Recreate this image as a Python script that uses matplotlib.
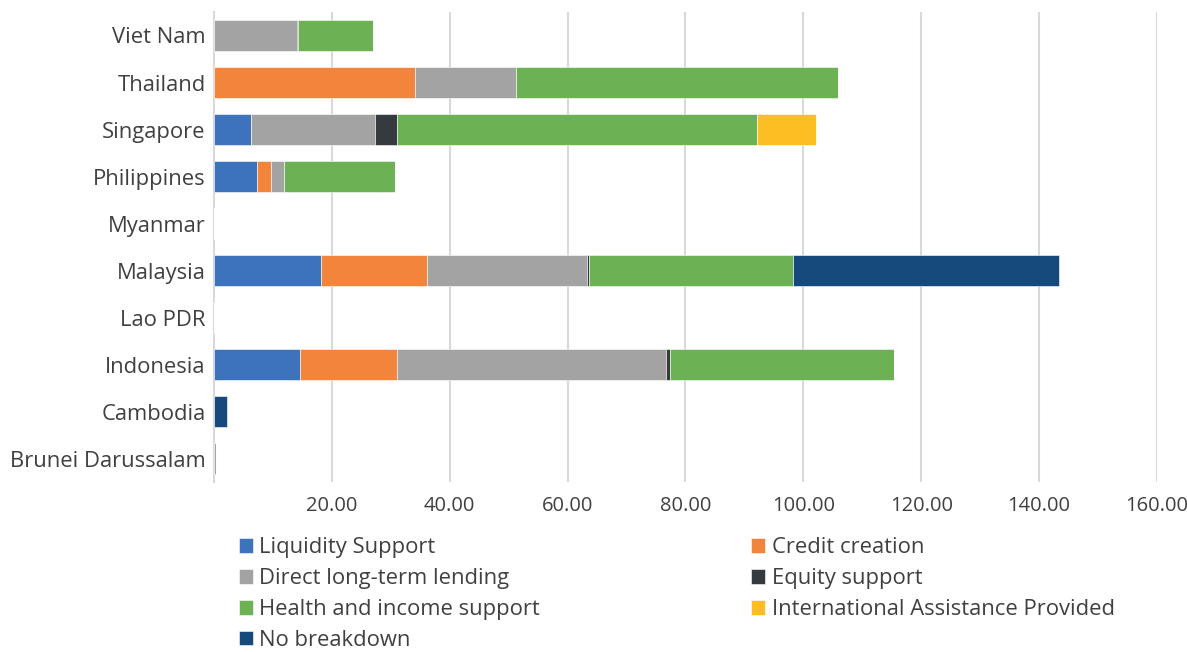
import matplotlib
matplotlib.use("Agg")
import matplotlib.pyplot as plt
import numpy as np

countries = ["Viet Nam", "Thailand", "Singapore", "Philippines", "Myanmar",
             "Malaysia", "Lao PDR", "Indonesia", "Cambodia", "Brunei Darussalam"]
series_names = ["Liquidity Support", "Credit creation", "Direct long-term lending",
                "Equity support", "Health and income support",
                "International Assistance Provided", "No breakdown"]
liquidity = [0, 0, 6.3, 7.3, 0, 18.2, 0, 14.6, 0, 0]
credit = [0, 34.1, 0, 2.4, 0, 18.0, 0, 16.5, 0, 0]
direct = [14.0, 17.2, 21.0, 2.2, 0, 27.1, 0, 45.6, 0, 0.3]
equity = [0.3, 0, 3.8, 0, 0, 0.3, 0, 0.6, 0, 0]
health = [12.6, 54.5, 61.1, 18.8, 0, 34.7, 0, 38.0, 0, 0]
international = [0, 0, 10.0, 0, 0, 0, 0, 0, 0, 0]
no_breakdown = [0, 0, 0, 0, 0, 45.0, 0, 0, 2.2, 0]
x_ticks = [20, 40, 60, 80, 100, 120, 140, 160]
x_ticklabels = ["20.00", "40.00", "60.00", "80.00", "100.00", "120.00", "140.00", "160.00"]

colors = ["#3D72BC", "#F2843B", "#A3A3A3", "#353A3E", "#6CB255", "#FDBE24", "#174A7C"]

plt.rcParams['font.family'] = ['Open Sans', 'DejaVu Sans']

fig = plt.figure(figsize=(11.87, 6.52), dpi=100)
ax = fig.add_axes([0.1803, 0.2607, 0.9747 - 0.1803, 0.9816 - 0.2607])

data = [liquidity, credit, direct, equity, health, international, no_breakdown]
y = np.arange(len(countries))
left = np.zeros(len(countries))
handles = []
for name, vals, c in zip(series_names, data, colors):
    vals = np.array(vals, dtype=float)
    h = ax.barh(y, vals, left=left, height=0.64, color=c, label=name,
                edgecolor="white", linewidth=0.4, zorder=3)
    handles.append(h)
    left += vals

ax.set_ylim(len(countries) - 0.5, -0.5)
ax.set_xlim(0, 160)
ax.set_yticks(y)
ax.set_yticklabels(countries, fontsize=15.8, color="#404040")
ax.set_xticks(x_ticks)
ax.set_xticklabels(x_ticklabels, fontsize=14.5, color="#404040")
ax.tick_params(axis="both", length=0)
ax.tick_params(axis="x", pad=10)
ax.tick_params(axis="y", pad=6)
ax.grid(axis="x", color="#D9D9D9", linewidth=1.5, zorder=0)
for s in ["top", "right", "bottom"]:
    ax.spines[s].set_visible(False)
ax.spines["left"].set_color("#D9D9D9")
ax.spines["left"].set_linewidth(1.5)

order = [0, 2, 4, 6, 1, 3, 5]
leg = fig.legend([handles[i] for i in order], [series_names[i] for i in order],
                 ncol=2, loc="upper left", bbox_to_anchor=(0.201, 0.176),
                 frameon=False, fontsize=15.8, handlelength=0.65, handleheight=0.65,
                 handletextpad=0.3, labelspacing=0.45, columnspacing=9.6,
                 labelcolor="#404040", borderaxespad=0, borderpad=0)

fig.savefig("out.png", dpi=100)
